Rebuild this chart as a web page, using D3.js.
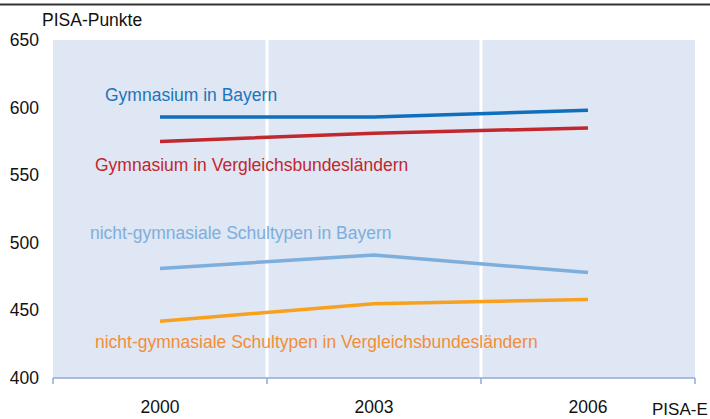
<!DOCTYPE html>
<html><head><meta charset="utf-8">
<script src="https://cdn.jsdelivr.net/npm/d3@7/dist/d3.min.js"></script>
<style>body{margin:0;background:#fff}svg{display:block;font-family:"Liberation Sans",Arial,sans-serif}</style>
</head><body><svg id="c" width="710" height="419"></svg>
<script>
const years = ["2000","2003","2006"];
const yTicks = [400,450,500,550,600,650];
const gymBayern = [593,593,598];
const gymVergl = [575,581,585];
const nichtBayern = [481,491,478];
const nichtVergl = [442,455,458];
const seriesNames = ["Gymnasium in Bayern","Gymnasium in Vergleichsbundesländern","nicht-gymnasiale Schultypen in Bayern","nicht-gymnasiale Schultypen in Vergleichsbundesländern"];

const svg = d3.select("#c");
const L=53,R=695,T=40,B=378;
const x = d3.scaleBand().domain(years).range([L,R]).padding(0);
const y = d3.scaleLinear().domain([400,650]).range([B,T]);

svg.append("line").attr("x1",0).attr("x2",710).attr("y1",4.5).attr("y2",4.5).attr("stroke","#333").attr("stroke-width",2);
svg.append("rect").attr("x",L).attr("y",T).attr("width",R-L).attr("height",B-T).attr("fill","#dfe6f4");
years.slice(1).forEach(d=>{
  svg.append("line").attr("x1",x(d)).attr("x2",x(d)).attr("y1",T).attr("y2",B).attr("stroke","#fff").attr("stroke-width",3);
});
// x axis
const xa = svg.append("g").attr("transform",`translate(0,${B})`);
xa.append("line").attr("x1",L).attr("x2",R).attr("stroke","#8eaadb").attr("stroke-width",1.5);
[...years.map(d=>x(d)),R].forEach(px=>xa.append("line").attr("x1",px).attr("x2",px).attr("y1",0).attr("y2",6).attr("stroke","#8eaadb").attr("stroke-width",1.5));
years.forEach(d=>xa.append("text").attr("x",x(d)+x.bandwidth()/2).attr("y",35).attr("text-anchor","middle").attr("font-size",17.5).attr("fill","#111").text(d));
// y labels
yTicks.forEach(t=>svg.append("text").attr("x",39).attr("y",y(t)+6).attr("text-anchor","end").attr("font-size",17.5).attr("fill","#111").text(t));
svg.append("text").attr("x",42).attr("y",26).attr("font-size",17.5).attr("fill","#111").text("PISA-Punkte");
svg.append("text").attr("x",652).attr("y",415).attr("font-size",17).attr("fill","#111").text("PISA-E");

const cx = d=>x(d)+x.bandwidth()/2;
const line = d3.line().x((v,i)=>cx(years[i])).y(v=>y(v));
const series = [
 {v:gymBayern,c:"#0f6fbd",tc:"#1b75bc",lx:105,ly:101},
 {v:gymVergl,c:"#c1272d",tc:"#c1272d",lx:95,ly:171},
 {v:nichtBayern,c:"#7eaedb",tc:"#7eaedb",lx:90,ly:239},
 {v:nichtVergl,c:"#f7a11e",tc:"#f28e3a",lx:95,ly:348}
];
series.forEach((s,i)=>{
  svg.append("path").attr("d",line(s.v)).attr("fill","none").attr("stroke",s.c).attr("stroke-width",3.5);
  svg.append("text").attr("x",s.lx).attr("y",s.ly).attr("font-size",17.5).attr("fill",s.tc).text(seriesNames[i]);
});
</script></body></html>
